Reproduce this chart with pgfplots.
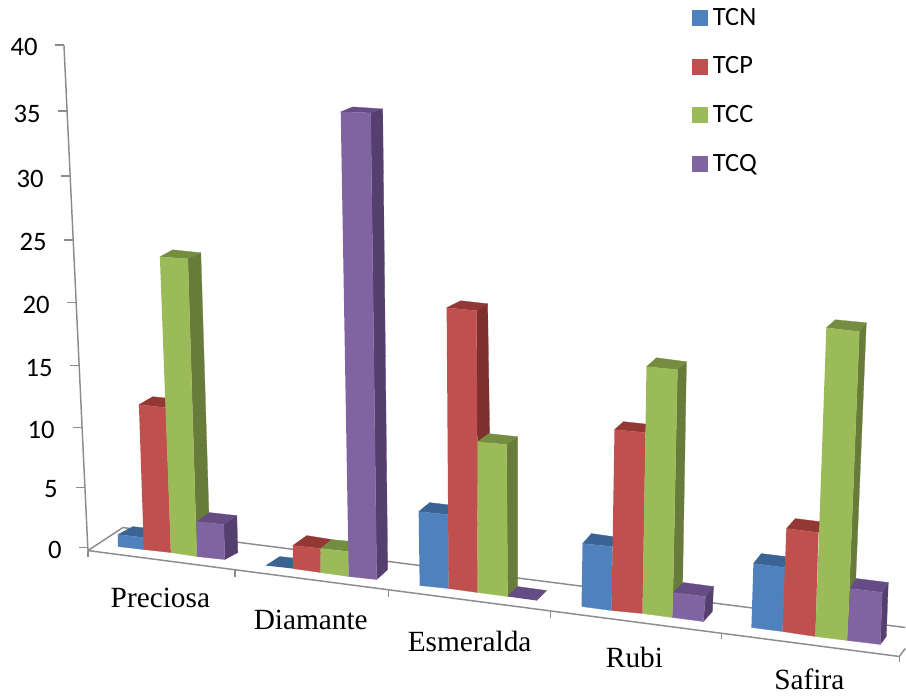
\documentclass[border=0pt]{standalone}
\usepackage{fontspec}
\setmainfont{Liberation Serif}
\newfontfamily\carlito{Carlito}
\usepackage{pgfplots}
\pgfplotsset{compat=1.18}

\definecolor{tcn}{HTML}{4F81BD}
\definecolor{tcp}{HTML}{C0504D}
\definecolor{tcc}{HTML}{9BBB59}
\definecolor{tcq}{HTML}{8064A2}
\definecolor{tcntop}{HTML}{3B6494}
\definecolor{tcptop}{HTML}{943836}
\definecolor{tcptside}{HTML}{7D302E}
\definecolor{tcctop}{HTML}{748D41}
\definecolor{tccside}{HTML}{677C3A}
\definecolor{tcqtop}{HTML}{654C84}
\definecolor{tcqside}{HTML}{553F6E}
\definecolor{wall}{HTML}{8C8C8C}

% one face of a bar, corners (x, y in pixels)
\newcommand{\face}[2]{\addplot[forget plot,fill=#1,draw=#1,line width=.2pt] coordinates {#2};}
\newcommand{\gline}[1]{\addplot[forget plot,draw=wall,line width=1.1pt] coordinates {#1};}
\newcommand{\ylab}[3]{\node[anchor=base east,inner sep=0pt,font=\carlito\fontsize{20}{22}\selectfont] at (axis cs:#1,#2) {#3};}
\newcommand{\xlab}[3]{\node[anchor=base,inner sep=0pt,font=\fontsize{22}{24}\selectfont] at (axis cs:#1,#2) {#3};}

\begin{document}
\begin{tikzpicture}
\begin{axis}[
	scale only axis,
	width=679.5pt,
	height=522pt,
	xmin=0, xmax=906,
	ymin=0, ymax=696,
	y dir=reverse,
	hide axis,
	clip=false,
	legend cell align=left,
	legend style={
		at={(axis cs:692,5)},
		anchor=north west,
		draw=none,
		fill=none,
		row sep=18.3pt,
		inner sep=0pt,
		font=\carlito\fontsize{19.8}{19.8}\selectfont,
	},
	legend image code/.code={
		\fill[#1] (0pt,-5.6pt) rectangle (11.25pt,5.6pt);
		\path (13.5pt,0pt);
	},
]
% keeps the page as large as the axis
\addplot[forget plot,draw=none] coordinates {(0,0)(906,696)};

% floor and value axis
\gline{(88,551)(123,528)(906,628)}
\gline{(64,45)(88,551)}
\gline{(88,551)(900,657)(906,649)}
\gline{(55,45)(64,45)}
\gline{(58,111)(67,111)}
\gline{(61,176)(70,176)}
\gline{(64,240)(73,240)}
\gline{(67,303)(76,303)}
\gline{(70,366)(79,366)}
\gline{(73,428)(82,428)}
\gline{(76,488)(85,488)}
\gline{(79,548)(88,548)}
\gline{(88,551)(88,557)}
\gline{(235,570)(235,577)}
\gline{(389,591)(389,597)}
\gline{(551,612)(551,618)}
\gline{(722,634)(722,640)}
\gline{(900,657)(900,663)}

% Preciosa
\face{tcntop}{(118,535)(133,527)(150,529)(144,538)}
\face{tcn}{(118,535)(144,538)(144,550)(118,547)}
\face{tcptop}{(139,405)(153,397)(172,399)(166,408)}
\face{tcp}{(139,405)(166,408)(171,553)(144,550)}
\face{tccside}{(188,259)(201,253)(210,545)(197,557)}
\face{tcctop}{(160,257)(173,250)(201,253)(188,259)}
\face{tcc}{(160,257)(188,259)(197,557)(171,553)}
\face{tcqside}{(224,525)(237,516)(238,553)(225,560)}
\face{tcqtop}{(197,522)(210,513)(237,516)(224,525)}
\face{tcq}{(197,522)(224,525)(225,560)(197,557)}

% Diamante
\face{tcntop}{(266,566)(280,557)(298,559)(293,569)}
\face{tcptop}{(293,546)(307,536)(332,540)(321,549)}
\face{tcp}{(293,546)(321,549)(321,573)(293,569)}
\face{tcctop}{(321,549)(332,540)(352,542)(349,552)}
\face{tcc}{(321,549)(349,552)(349,577)(321,573)}
\face{tcqside}{(371,113)(383,109)(388,570)(377,580)}
\face{tcqtop}{(341,112)(353,107)(383,109)(371,113)}
\face{tcq}{(341,112)(371,113)(377,580)(349,577)}

% Esmeralda
\face{tcntop}{(419,512)(430,503)(455,506)(449,515)}
\face{tcn}{(419,512)(449,515)(449,589)(420,586)}
\face{tcptside}{(477,311)(488,304)(491,500)(478,510)}
\face{tcptop}{(447,308)(461,301)(488,304)(477,311)}
\face{tcp}{(447,308)(477,311)(478,593)(449,589)}
\face{tccside}{(507,445)(518,437)(518,587)(508,597)}
\face{tcctop}{(478,442)(489,434)(518,437)(507,445)}
\face{tcc}{(478,442)(507,445)(508,597)(478,593)}
\face{tcqtop}{(508,597)(518,587)(547,591)(537,601)}

% Rubi
\face{tcntop}{(583,544)(592,534)(620,538)(613,547)}
\face{tcn}{(583,544)(613,547)(612,611)(582,607)}
\face{tcptop}{(615,430)(624,422)(652,425)(646,433)}
\face{tcp}{(615,430)(646,433)(643,614)(612,611)}
\face{tccside}{(678,370)(687,362)(683,595)(673,618)}
\face{tcctop}{(647,367)(657,358)(687,362)(678,370)}
\face{tcc}{(647,367)(678,370)(673,618)(643,614)}
\face{tcqside}{(706,597)(714,587)(713,612)(704,622)}
\face{tcqtop}{(674,593)(684,583)(714,587)(706,597)}
\face{tcq}{(674,593)(706,597)(704,622)(673,618)}

% Safira
\face{tcntop}{(754,564)(762,554)(794,558)(786,568)}
\face{tcn}{(754,564)(786,568)(783,632)(752,628)}
\face{tcptop}{(787,529)(796,519)(828,523)(819,533)}
\face{tcp}{(787,529)(819,533)(816,637)(783,632)}
\face{tccside}{(860,332)(867,323)(856,590)(848,641)}
\face{tcctop}{(827,328)(836,320)(867,323)(860,332)}
\face{tcc}{(827,328)(860,332)(848,641)(816,637)}
\face{tcqside}{(883,593)(889,583)(887,637)(881,645)}
\face{tcqtop}{(851,589)(857,579)(889,583)(883,593)}
\face{tcq}{(851,589)(883,593)(881,645)(848,641)}

\addlegendimage{tcn}
\addlegendentry{TCN}
\addlegendimage{tcp}
\addlegendentry{TCP}
\addlegendimage{tcc}
\addlegendentry{TCC}
\addlegendimage{tcq}
\addlegendentry{TCQ}

\ylab{38}{56}{40}
\ylab{41}{123}{35}
\ylab{44}{188}{30}
\ylab{47}{251}{25}
\ylab{50}{314}{20}
\ylab{53}{377}{15}
\ylab{55}{439}{10}
\ylab{58}{498}{5}
\ylab{62}{559}{0}

\xlab{160.5}{608}{Preciosa}
\xlab{311}{630}{Diamante}
\xlab{470}{652}{Esmeralda}
\xlab{635}{668}{Rubi}
\xlab{810}{690}{Safira}
\end{axis}
\end{tikzpicture}
\end{document}
